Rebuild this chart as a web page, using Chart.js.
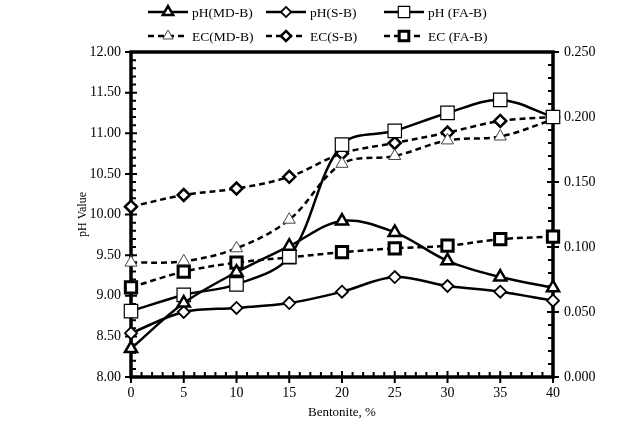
<!DOCTYPE html>
<html>
<head>
<meta charset="utf-8">
<script src="https://cdn.jsdelivr.net/npm/chart.js@4/dist/chart.umd.min.js"></script>
<style>
  body { margin: 0; background: #fff; }
  #wrap { width: 635px; height: 426px; }
</style>
</head>
<body>
<div id="wrap"><canvas id="chart" width="635" height="426"></canvas></div>
<script>
// values
const bentonite = [0, 5, 10, 15, 20, 25, 30, 35, 40];
const phMD = [8.35, 8.91, 9.29, 9.61, 9.92, 9.78, 9.43, 9.23, 9.10];
const phSB = [8.54, 8.80, 8.85, 8.91, 9.05, 9.23, 9.12, 9.05, 8.94];
const phFA = [8.81, 9.01, 9.14, 9.48, 10.86, 11.03, 11.25, 11.41, 11.20];
const ecMD = [0.088, 0.089, 0.099, 0.121, 0.164, 0.170, 0.182, 0.185, 0.198];
const ecSB = [0.131, 0.140, 0.145, 0.154, 0.172, 0.180, 0.188, 0.197, 0.200];
const ecFA = [0.069, 0.081, 0.088, 0.092, 0.096, 0.099, 0.101, 0.106, 0.108];

const labels = ['pH(MD-B)', 'pH(S-B)', 'pH (FA-B)', 'EC(MD-B)', 'EC(S-B)', 'EC (FA-B)'];

const serif = "'Liberation Serif', 'Times New Roman', serif";

function pts(vals) {
    return vals.map((v, i) => ({ x: bentonite[i], y: v }));
}

function series(label, vals, axis, shape, radius, border, dashed) {
    return {
        label: label,
        data: pts(vals),
        yAxisID: axis,
        borderColor: '#000',
        borderWidth: 2.5,
        borderDash: dashed ? [6, 4] : [],
        pointStyle: shape,
        pointRadius: radius,
        pointBorderWidth: border,
        pointBorderColor: '#000',
        pointBackgroundColor: '#fff',
        tension: 0.35,
        clip: false
    };
}

const datasets = [
    series(labels[0], phMD, 'y', 'triangle', 7, 2.5, false),
    series(labels[1], phSB, 'y', 'rectRot', 6, 1.8, false),
    series(labels[2], phFA, 'y', 'rect', 9.5, 1.2, false),
    series(labels[3], ecMD, 'y1', 'triangle', 7, 1, true),
    series(labels[4], ecSB, 'y1', 'rectRot', 6, 2.5, true),
    series(labels[5], ecFA, 'y1', 'rect', 8, 3, true)
];
datasets[3].pointBorderColor = '#444';

function marker(ctx, shape, x, y, r) {
    ctx.beginPath();
    if (shape === 'triangle') {
        for (let k = 0; k < 3; k++) {
            const a = -Math.PI / 2 + k * 2 * Math.PI / 3;
            const px = x + Math.cos(a) * r, py = y + Math.sin(a) * r;
            if (k === 0) ctx.moveTo(px, py); else ctx.lineTo(px, py);
        }
    } else if (shape === 'rectRot') {
        ctx.moveTo(x, y - r); ctx.lineTo(x + r, y); ctx.lineTo(x, y + r); ctx.lineTo(x - r, y);
    } else {
        const s = r * Math.SQRT1_2;
        ctx.rect(x - s, y - s, 2 * s, 2 * s);
    }
    ctx.closePath();
    ctx.fill();
    ctx.stroke();
}

// thick frame plus major/minor tick marks, positions taken from the scales
const framePlugin = {
    id: 'frame',
    beforeDatasetsDraw(chart) {
        const ctx = chart.ctx;
        const a = chart.chartArea;
        const sx = chart.scales.x, sy = chart.scales.y, sy1 = chart.scales.y1;
        ctx.save();
        ctx.strokeStyle = '#000';
        ctx.lineWidth = 3.5;
        ctx.strokeRect(a.left, a.top, a.right - a.left, a.bottom - a.top);
        ctx.lineWidth = 2;
        ctx.beginPath();
        for (let i = 0; i <= 40; i++) {
            const px = sx.getPixelForValue(i);
            const major = i % 5 === 0;
            ctx.moveTo(px, a.bottom + (major ? 6 : 1));
            ctx.lineTo(px, a.bottom - (major ? 6 : 5));
        }
        for (let i = 0; i <= 40; i++) {
            const py = sy.getPixelForValue(8 + i * 0.1);
            const major = i % 5 === 0;
            ctx.moveTo(a.left - (major ? 6 : 1), py);
            ctx.lineTo(a.left + (major ? 6 : 5), py);
        }
        for (let i = 0; i <= 25; i++) {
            const py = sy1.getPixelForValue(i * 0.01);
            const major = i % 5 === 0;
            ctx.moveTo(a.right + (major ? 6 : 1), py);
            ctx.lineTo(a.right - (major ? 6 : 5), py);
        }
        ctx.stroke();
        ctx.restore();
    }
};

// two-row legend with line + marker samples
const legendSpots = [
    { x: 148, y: 12 }, { x: 266, y: 12 }, { x: 384, y: 12 },
    { x: 148, y: 36 }, { x: 266, y: 36 }, { x: 384, y: 36 }
];
const legendPlugin = {
    id: 'twoRowLegend',
    afterDraw(chart) {
        const ctx = chart.ctx;
        ctx.save();
        chart.data.datasets.forEach((ds, i) => {
            const s = legendSpots[i];
            ctx.strokeStyle = '#000';
            ctx.lineWidth = ds.borderWidth;
            ctx.setLineDash(ds.borderDash);
            ctx.beginPath();
            ctx.moveTo(s.x, s.y);
            ctx.lineTo(s.x + 40, s.y);
            ctx.stroke();
            ctx.setLineDash([]);
            ctx.fillStyle = '#fff';
            ctx.strokeStyle = ds.pointBorderColor;
            ctx.lineWidth = ds.pointBorderWidth;
            marker(ctx, ds.pointStyle, s.x + 20, s.y, ds.pointRadius * 0.85);
            ctx.fillStyle = '#000';
            ctx.font = '13.5px ' + serif;
            ctx.textBaseline = 'middle';
            ctx.fillText(ds.label, s.x + 44, s.y + 1);
        });
        ctx.restore();
    }
};

const tickFont = { family: serif, size: 14 };

new Chart(document.getElementById('chart'), {
    type: 'line',
    data: { datasets: datasets },
    options: {
        responsive: false,
        animation: false,
        layout: { padding: { top: 52, left: 0, right: 0, bottom: 0 } },
        plugins: { legend: { display: false }, tooltip: { enabled: false } },
        scales: {
            x: {
                type: 'linear',
                min: 0, max: 40,
                ticks: { stepSize: 5, color: '#000', font: tickFont, padding: 8 },
                grid: { display: false, drawTicks: false },
                border: { display: false },
                title: { display: true, text: 'Bentonite, %', color: '#000', font: { family: serif, size: 13 }, padding: { top: 0, bottom: 6 } },
                afterFit(scale) { scale.height = 49; }
            },
            y: {
                position: 'left',
                min: 8, max: 12,
                ticks: { stepSize: 0.5, color: '#000', font: tickFont, padding: 10, callback: v => v.toFixed(2) },
                grid: { display: false, drawTicks: false },
                border: { display: false },
                title: { display: true, text: 'pH Value', color: '#000', font: { family: serif, size: 12 }, padding: { top: 76, bottom: 0 } },
                afterFit(scale) { scale.width = 131; }
            },
            y1: {
                position: 'right',
                min: 0, max: 0.25,
                ticks: { stepSize: 0.05, color: '#000', font: tickFont, padding: 11, callback: v => v.toFixed(3) },
                grid: { display: false, drawTicks: false },
                border: { display: false },
                afterFit(scale) { scale.width = 82; }
            }
        }
    },
    plugins: [framePlugin, legendPlugin]
});
</script>
</body>
</html>
